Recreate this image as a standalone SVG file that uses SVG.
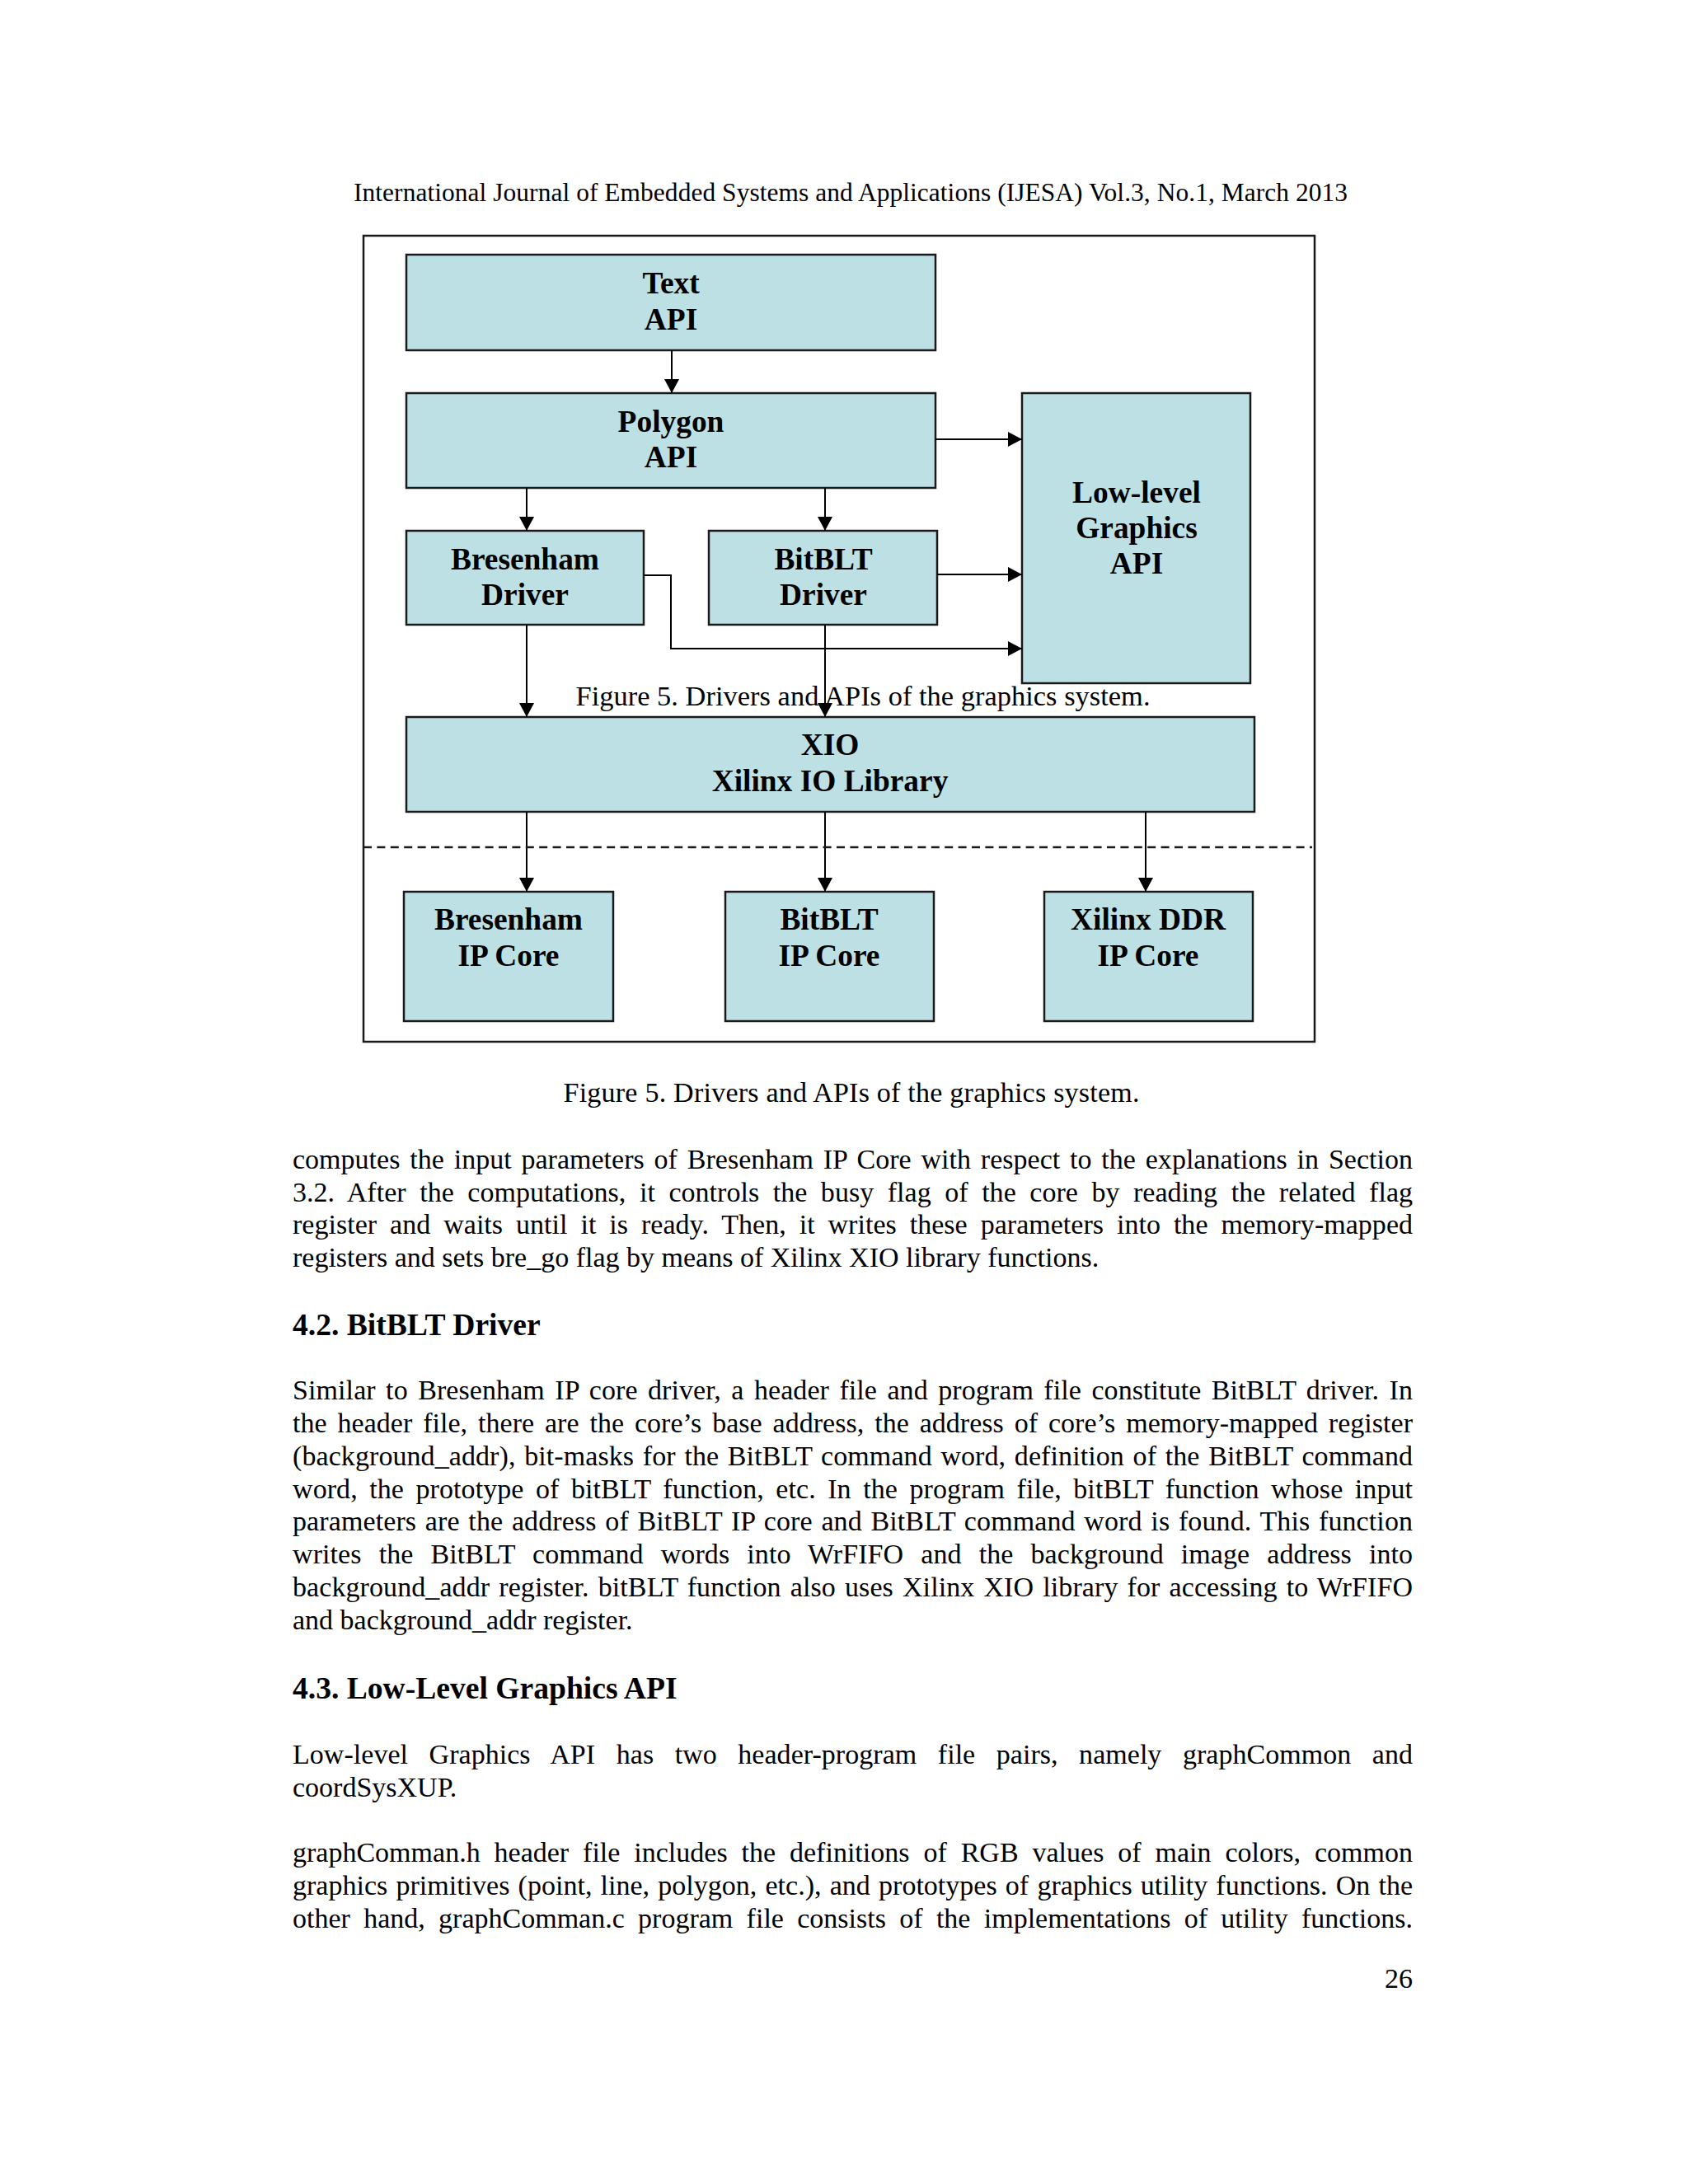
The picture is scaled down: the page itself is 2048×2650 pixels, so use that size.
<svg xmlns="http://www.w3.org/2000/svg" width="2048" height="2650" viewBox="0 0 2048 2650">
<style>
.t{font-family:"Liberation Serif","Times New Roman",serif;fill:#000}
.body{font-size:34px}
.hdr{font-size:31.4px}
.h{font-size:37.6px;font-weight:bold}
.lbl{font-family:"Liberation Serif","Times New Roman",serif;font-weight:bold;font-size:37.4px;text-anchor:middle;fill:#000}
.node rect{fill:#bce0e3;stroke:#1a1a1a;stroke-width:2.5}
.conn{stroke:#000;stroke-width:2;fill:none}
.frame{fill:none;stroke:#1a1a1a;stroke-width:2.5}
</style>
<defs>
<marker id="ah" markerUnits="userSpaceOnUse" markerWidth="18" markerHeight="18" refX="17" refY="9" orient="auto">
<path d="M0,0 L17,9 L0,18 z" fill="#000"/>
</marker>
</defs>
<rect x="0" y="0" width="2048" height="2650" fill="#fff"/>

<text class="t hdr" x="1032" y="244" text-anchor="middle" textLength="1206" lengthAdjust="spacing">International Journal of Embedded Systems and Applications (IJESA) Vol.3, No.1, March 2013</text>

<rect class="frame" x="441" y="286" width="1154" height="978"/>

<text class="t" x="1047" y="856" font-size="34.4" text-anchor="middle" textLength="697" lengthAdjust="spacing">Figure 5. Drivers and APIs of the graphics system.</text>

<g id="text-api" class="node">
<rect x="493" y="309" width="642" height="116"/>
<text class="lbl" x="814" y="356">Text</text>
<text class="lbl" x="814" y="400">API</text>
</g>
<g id="polygon-api" class="node">
<rect x="493" y="477" width="642" height="115"/>
<text class="lbl" x="814" y="524">Polygon</text>
<text class="lbl" x="814" y="567">API</text>
</g>
<g id="lowlevel-api" class="node">
<rect x="1240" y="477" width="277" height="352"/>
<text class="lbl" x="1379" y="610">Low-level</text>
<text class="lbl" x="1379" y="653">Graphics</text>
<text class="lbl" x="1379" y="696">API</text>
</g>
<g id="bresenham-driver" class="node">
<rect x="493" y="644" width="288" height="114"/>
<text class="lbl" x="637" y="691">Bresenham</text>
<text class="lbl" x="637" y="734">Driver</text>
</g>
<g id="bitblt-driver" class="node">
<rect x="860" y="644" width="277" height="114"/>
<text class="lbl" x="999" y="691">BitBLT</text>
<text class="lbl" x="999" y="734">Driver</text>
</g>
<g id="xio" class="node">
<rect x="493" y="870" width="1029" height="115"/>
<text class="lbl" x="1007" y="916">XIO</text>
<text class="lbl" x="1007" y="960">Xilinx IO Library</text>
</g>
<g id="bresenham-ip" class="node">
<rect x="490" y="1082" width="254" height="157"/>
<text class="lbl" x="617" y="1128">Bresenham</text>
<text class="lbl" x="617" y="1172">IP Core</text>
</g>
<g id="bitblt-ip" class="node">
<rect x="880" y="1082" width="253" height="157"/>
<text class="lbl" x="1006" y="1128">BitBLT</text>
<text class="lbl" x="1006" y="1172">IP Core</text>
</g>
<g id="ddr-ip" class="node">
<rect x="1267" y="1082" width="253" height="157"/>
<text class="lbl" x="1393" y="1128">Xilinx DDR</text>
<text class="lbl" x="1393" y="1172">IP Core</text>
</g>

<g id="connectors">
<line class="conn" x1="815" y1="425" x2="815" y2="477" marker-end="url(#ah)"/>
<line class="conn" x1="1135" y1="533" x2="1240" y2="533" marker-end="url(#ah)"/>
<line class="conn" x1="639" y1="592" x2="639" y2="644" marker-end="url(#ah)"/>
<line class="conn" x1="1001" y1="592" x2="1001" y2="644" marker-end="url(#ah)"/>
<line class="conn" x1="1137" y1="697" x2="1240" y2="697" marker-end="url(#ah)"/>
<polyline class="conn" points="781,698 814,698 814,787 1240,787" marker-end="url(#ah)"/>
<line class="conn" x1="639" y1="758" x2="639" y2="870" marker-end="url(#ah)"/>
<line class="conn" x1="1001" y1="758" x2="1001" y2="870" marker-end="url(#ah)"/>
<line class="conn" x1="639" y1="985" x2="639" y2="1082" marker-end="url(#ah)"/>
<line class="conn" x1="1001" y1="985" x2="1001" y2="1082" marker-end="url(#ah)"/>
<line class="conn" x1="1390" y1="985" x2="1390" y2="1082" marker-end="url(#ah)"/>
<line x1="441" y1="1028" x2="1592" y2="1028" stroke="#1a1a1a" stroke-width="2.5" stroke-dasharray="10,6.4"/>
</g>

<text class="t body" x="1033" y="1337" font-size="34.5" text-anchor="middle" textLength="699" lengthAdjust="spacing">Figure 5. Drivers and APIs of the graphics system.</text>

<g class="t body">
<text x="355" y="1418" word-spacing="3.3" textLength="1359" lengthAdjust="spacing">computes the input parameters of Bresenham IP Core with respect to the explanations in Section</text>
<text x="355" y="1458" word-spacing="8" textLength="1359" lengthAdjust="spacing">3.2. After the computations, it controls the busy flag of the core by reading the related flag</text>
<text x="355" y="1497" word-spacing="7.4" textLength="1359" lengthAdjust="spacing">register and waits until it is ready. Then, it writes these parameters into the memory-mapped</text>
<text x="355" y="1537">registers and sets bre_go flag by means of Xilinx XIO library functions.</text>

<text class="h" x="355" y="1620">4.2. BitBLT Driver</text>

<text x="355" y="1698" word-spacing="3.8" textLength="1359" lengthAdjust="spacing">Similar to Bresenham IP core driver, a header file and program file constitute BitBLT driver. In</text>
<text x="355" y="1738" word-spacing="4.3" textLength="1359" lengthAdjust="spacing">the header file, there are the core’s base address, the address of core’s memory-mapped register</text>
<text x="355" y="1778" word-spacing="2.1" textLength="1359" lengthAdjust="spacing">(background_addr), bit-masks for the BitBLT command word, definition of the BitBLT command</text>
<text x="355" y="1818" word-spacing="5.9" textLength="1359" lengthAdjust="spacing">word, the prototype of bitBLT function, etc. In the program file, bitBLT function whose input</text>
<text x="355" y="1857" word-spacing="2.1" textLength="1359" lengthAdjust="spacing">parameters are the address of BitBLT IP core and BitBLT command word is found. This function</text>
<text x="355" y="1897" word-spacing="12.5" textLength="1359" lengthAdjust="spacing">writes the BitBLT command words into WrFIFO and the background image address into</text>
<text x="355" y="1937" word-spacing="2.5" textLength="1359" lengthAdjust="spacing">background_addr register. bitBLT function also uses Xilinx XIO library for accessing to WrFIFO</text>
<text x="355" y="1977">and background_addr register.</text>

<text class="h" x="355" y="2061">4.3. Low-Level Graphics API</text>

<text x="355" y="2140" word-spacing="17" textLength="1359" lengthAdjust="spacing">Low-level Graphics API has two header-program file pairs, namely graphCommon and</text>
<text x="355" y="2180">coordSysXUP.</text>

<text x="355" y="2259" word-spacing="8.4" textLength="1359" lengthAdjust="spacing">graphComman.h header file includes the definitions of RGB values of main colors, common</text>
<text x="355" y="2299" word-spacing="1.7" textLength="1359" lengthAdjust="spacing">graphics primitives (point, line, polygon, etc.), and prototypes of graphics utility functions. On the</text>
<text x="355" y="2339" word-spacing="7.8" textLength="1359" lengthAdjust="spacing">other hand, graphComman.c program file consists of the implementations of utility functions.</text>

<text x="1714" y="2412" text-anchor="end">26</text>
</g>
</svg>
